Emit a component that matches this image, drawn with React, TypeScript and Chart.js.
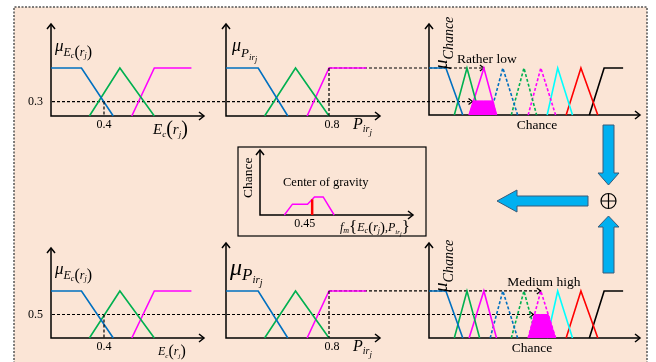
import React, { useEffect, useRef } from "react";
import { Chart, registerables } from "chart.js";

Chart.register(...registerables);

const W = 656;
const H = 362;
const FONT = "'Liberation Serif', 'Times New Roman', serif";

type Pt = [number, number];

// Membership functions of E_c(r_j): [value, membership]
const ecLow: Pt[] = [[0, 1], [0.23, 1], [0.47, 0]];
const ecMid: Pt[] = [[0.29, 0], [0.52, 1], [0.78, 0]];
const ecHigh: Pt[] = [[0.61, 0], [0.78, 1], [1.06, 1]];

// Membership functions of P_irj
const pLow: Pt[] = [[0, 1], [0.25, 1], [0.48, 0]];
const pMid: Pt[] = [[0.3, 0], [0.54, 1], [0.8, 0]];
const pHigh: Pt[] = [[0.63, 0], [0.8, 1], [1.09, 1]];

// Output membership functions of Chance
const chanceVeryLow: Pt[] = [[0, 1], [0.08, 1], [0.16, 0]];
const chanceLow: Pt[] = [[0.12, 0], [0.18, 1], [0.24, 0]];
const chanceRatherLow: Pt[] = [[0.19, 0], [0.26, 1], [0.32, 0]];
const chanceMediumLow: Pt[] = [[0.29, 0], [0.35, 1], [0.42, 0]];
const chanceMedium: Pt[] = [[0.39, 0], [0.45, 1], [0.51, 0]];
const chanceMediumHigh: Pt[] = [[0.47, 0], [0.53, 1], [0.6, 0]];
const chanceRatherHigh: Pt[] = [[0.56, 0], [0.61, 1], [0.68, 0]];
const chanceHigh: Pt[] = [[0.65, 0], [0.72, 1], [0.8, 0]];
const chanceVeryHigh: Pt[] = [[0.76, 0], [0.83, 1], [0.92, 1]];

// Crisp inputs, rule firing strengths and the fired output terms
const inputEc = 0.4;
const inputP = 0.8;
const ruleStrength = [0.3, 0.5];
const ruleOutput = ["Rather low", "Medium high"];

// Aggregated output set and its centre of gravity
const aggregate: Pt[] = [[0.21, 0], [0.28, 0.3], [0.41, 0.3], [0.47, 0.5], [0.545, 0.5], [0.64, 0]];
const centroid = 0.45;

const C_BLUE = "#0070C0";
const C_GREEN = "#00B050";
const C_MAGENTA = "#FF00FF";
const C_CYAN = "#00FFFF";
const C_RED = "#FF0000";
const C_BLACK = "#000000";

const chanceTerms: { pts: Pt[]; color: string; dashed: boolean }[] = [
  { pts: chanceVeryLow, color: C_BLUE, dashed: false },
  { pts: chanceLow, color: C_GREEN, dashed: false },
  { pts: chanceRatherLow, color: C_MAGENTA, dashed: false },
  { pts: chanceMediumLow, color: C_BLUE, dashed: true },
  { pts: chanceMedium, color: C_GREEN, dashed: true },
  { pts: chanceMediumHigh, color: C_MAGENTA, dashed: true },
  { pts: chanceRatherHigh, color: C_CYAN, dashed: false },
  { pts: chanceHigh, color: C_RED, dashed: false },
  { pts: chanceVeryHigh, color: C_BLACK, dashed: false },
];

// Clip a membership function at a firing strength (min implication)
function clipAt(pts: Pt[], level: number): Pt[] {
  const out: Pt[] = [];
  for (let i = 0; i < pts.length; i++) {
    const [x, y] = pts[i];
    if (i > 0) {
      const [x0, y0] = pts[i - 1];
      if ((y0 - level) * (y - level) < 0) {
        const t = (level - y0) / (y - y0);
        out.push([x0 + t * (x - x0), level]);
      }
    }
    out.push([x, Math.min(y, level)]);
  }
  return out;
}

function peakX(pts: Pt[]): number {
  const p = pts.find((q) => q[1] === 1);
  return p ? p[0] : pts[0][0];
}

function valueAt(pts: Pt[], x: number): number {
  for (let i = 1; i < pts.length; i++) {
    const [x0, y0] = pts[i - 1];
    const [x1, y1] = pts[i];
    if (x >= x0 && x <= x1) return y0 + ((x - x0) / (x1 - x0)) * (y1 - y0);
  }
  return 0;
}

function line(pts: Pt[], color: string, dashed = false, width = 1.6) {
  return {
    data: pts.map(([x, y]) => ({ x, y })),
    showLine: true,
    borderColor: color,
    backgroundColor: color,
    borderWidth: width,
    borderDash: dashed ? [3, 2] : [],
    pointRadius: 0,
    fill: false as any,
    clip: false as any,
  };
}

function area(pts: Pt[], color: string) {
  return { ...line(pts, color, false, 1), fill: "origin" as any };
}

type Run = [string, number, boolean?, number?];

function drawRuns(ctx: CanvasRenderingContext2D, x: number, y: number, list: Run[], rotated = false) {
  ctx.save();
  ctx.translate(x, y);
  if (rotated) ctx.rotate(-Math.PI / 2);
  ctx.textBaseline = "alphabetic";
  ctx.textAlign = "left";
  ctx.fillStyle = "#000";
  let cx = 0;
  for (const [t, size, italic, dy] of list) {
    ctx.font = `${italic ? "italic " : ""}${size}px ${FONT}`;
    ctx.fillText(t, cx, dy || 0);
    cx += ctx.measureText(t).width;
  }
  ctx.restore();
}

function text(ctx: CanvasRenderingContext2D, s: string, x: number, y: number, size: number, align: CanvasTextAlign = "center", baseline: CanvasTextBaseline = "alphabetic") {
  ctx.save();
  ctx.font = `${size}px ${FONT}`;
  ctx.fillStyle = "#000";
  ctx.textAlign = align;
  ctx.textBaseline = baseline;
  ctx.fillText(s, x, y);
  ctx.restore();
}

function head(ctx: CanvasRenderingContext2D, x: number, y: number, ang: number, s = 5, w = 4) {
  ctx.save();
  ctx.translate(x, y);
  ctx.rotate(ang);
  ctx.setLineDash([]);
  ctx.beginPath();
  ctx.moveTo(-s, -w);
  ctx.lineTo(0, 0);
  ctx.lineTo(-s, w);
  ctx.stroke();
  ctx.restore();
}

function dashedLine(ctx: CanvasRenderingContext2D, x1: number, y1: number, x2: number, y2: number, arrow = false) {
  ctx.save();
  ctx.strokeStyle = "#000";
  ctx.lineWidth = 1.2;
  ctx.setLineDash([3, 2]);
  ctx.beginPath();
  ctx.moveTo(x1, y1);
  ctx.lineTo(x2, y2);
  ctx.stroke();
  if (arrow) head(ctx, x2, y2, Math.atan2(y2 - y1, x2 - x1), 4, 3);
  ctx.restore();
}

function drawAxes(chart: Chart) {
  const { ctx, chartArea: a } = chart;
  ctx.save();
  ctx.strokeStyle = "#000";
  ctx.lineWidth = 1.5;
  ctx.setLineDash([]);
  ctx.beginPath();
  ctx.moveTo(a.left, a.top);
  ctx.lineTo(a.left, a.bottom);
  ctx.lineTo(a.right, a.bottom);
  ctx.stroke();
  head(ctx, a.right, a.bottom, 0);
  head(ctx, a.left, a.top, -Math.PI / 2);
  ctx.restore();
}

type Box = { l: number; t: number; r: number; b: number };

function panel(canvas: HTMLCanvasElement, box: Box, xMax: number, yMax: number, datasets: any[], deco: (c: Chart) => void) {
  return new Chart(canvas, {
    type: "scatter",
    data: { datasets },
    options: {
      responsive: false,
      animation: false,
      events: [],
      layout: { padding: { left: box.l, top: box.t, right: W - box.r, bottom: H - box.b } },
      plugins: { legend: { display: false }, tooltip: { enabled: false } },
      scales: {
        x: { type: "linear", display: false, min: 0, max: xMax, bounds: "data" },
        y: { type: "linear", display: false, min: 0, max: yMax, bounds: "data" },
      },
    } as any,
    plugins: [
      {
        id: "axesAndLabels",
        beforeDatasetsDraw(c: Chart) {
          drawAxes(c);
        },
        afterDatasetsDraw(c: Chart) {
          deco(c);
        },
      },
    ],
  });
}

const muEc: Run[] = [["μ", 17, true, 0], ["E", 12, true, 5], ["c", 8, true, 7], ["(", 16, false, 6], ["r", 12, true, 5], ["j", 8, true, 7], [")", 16, false, 6]];
const muPSmall: Run[] = [["μ", 18, true, 0], ["P", 13, true, 6], ["ir", 9, true, 9], ["j", 8, true, 11]];
const muPLarge: Run[] = [["μ", 24, true, 0], ["P", 17, true, 5], ["ir", 11, true, 8], ["j", 10, true, 11]];
const muChance: Run[] = [["μ", 19, true, 0], ["Chance", 14, true, 6]];
const ecTitleLarge: Run[] = [["E", 15, true, 0], ["c", 9, true, 3], ["(", 20, false, 1], ["r", 15, true, 0], ["j", 9, true, 3], [")", 20, false, 1]];
const ecTitleSmall: Run[] = [["E", 12, true, 0], ["c", 7, true, 3], ["(", 16, false, 1], ["r", 12, true, 0], ["j", 7, true, 3], [")", 16, false, 1]];
const pTitle: Run[] = [["P", 16, true, 0], ["ir", 10, true, 3], ["j", 9, true, 6]];
const fmTitle: Run[] = [
  ["f", 12, true, 0], ["m", 8, true, 2], ["{", 17, false, 1], ["E", 12, true, 0], ["c", 8, true, 2], ["(", 15, false, 1],
  ["r", 12, true, 0], ["j", 8, true, 2], [")", 15, false, 1], [",", 12, false, 0], ["P", 12, true, 0], ["ir", 7, true, 3],
  ["j", 6, true, 5], ["}", 17, false, 1],
];

export default function App() {
  const frameRef = useRef<HTMLCanvasElement | null>(null);
  const panelRefs = useRef<(HTMLCanvasElement | null)[]>([]);

  useEffect(() => {
    const cv = panelRefs.current as HTMLCanvasElement[];
    const charts: Chart[] = [];

    const ecDatasets = [line(ecLow, C_BLUE), line(ecMid, C_GREEN), line(ecHigh, C_MAGENTA)];
    const pDatasets = () => [line(pLow, C_BLUE), line(pMid, C_GREEN), line(pHigh, C_MAGENTA)];
    const chanceDatasets = (term: Pt[], level: number) => [
      area(clipAt(term, level), C_MAGENTA),
      ...chanceTerms.map((t) => line(t.pts, t.color, t.dashed)),
    ];

    const ecDeco = (level: number, small: boolean) => (c: Chart) => {
      const { ctx, chartArea: a } = c;
      const xs = c.scales.x;
      const ys = c.scales.y;
      const xi = xs.getPixelForValue(inputEc);
      dashedLine(ctx, xi, ys.getPixelForValue(level), xi, a.bottom);
      text(ctx, String(level), a.left - 8, ys.getPixelForValue(level), 12, "right", "middle");
      text(ctx, String(inputEc), xi, a.bottom + 12, 12);
      drawRuns(ctx, a.left + 4, ys.getPixelForValue(1) - 17, muEc);
      if (small) drawRuns(ctx, a.left + 107, a.bottom + 17, ecTitleSmall);
      else drawRuns(ctx, a.left + 102, a.bottom + 18, ecTitleLarge);
    };

    const pDeco = (large: boolean) => (c: Chart) => {
      const { ctx, chartArea: a } = c;
      const xs = c.scales.x;
      const ys = c.scales.y;
      const xi = xs.getPixelForValue(inputP);
      dashedLine(ctx, xi, ys.getPixelForValue(1), xi, a.bottom);
      text(ctx, String(inputP), xi + 3, a.bottom + 12, 12);
      if (large) drawRuns(ctx, a.left + 4, ys.getPixelForValue(1) - 16, muPLarge);
      else drawRuns(ctx, a.left + 6, ys.getPixelForValue(1) - 17, muPSmall);
      drawRuns(ctx, a.left + 127, a.bottom + 13, pTitle);
    };

    const chanceDeco = (term: Pt[], label: string, titleX: number) => (c: Chart) => {
      const { ctx, chartArea: a } = c;
      const xs = c.scales.x;
      const ys = c.scales.y;
      const y1 = ys.getPixelForValue(1);
      drawRuns(ctx, a.left + 18, y1 + 1, muChance, true);
      text(ctx, label, xs.getPixelForValue(peakX(term)) + 3, y1 - 5, 13.5);
      text(ctx, "Chance", a.left + titleX, a.bottom + 14, 13.5);
    };

    // top row
    const A = panel(cv[0], { l: 51, t: 24, r: 204, b: 116 }, 1.155, 1.917, ecDatasets, ecDeco(ruleStrength[0], false));
    const B = panel(cv[1], { l: 226, t: 24, r: 380, b: 116 }, 1.196, 1.917, pDatasets(), pDeco(false));
    const Cc = panel(cv[2], { l: 429, t: 24, r: 640, b: 115 }, 1, 1.936, chanceDatasets(chanceRatherLow, ruleStrength[0]), chanceDeco(chanceRatherLow, ruleOutput[0], 108));
    // bottom row
    const D = panel(cv[3], { l: 51, t: 248, r: 204, b: 338 }, 1.155, 1.915, [line(ecLow, C_BLUE), line(ecMid, C_GREEN), line(ecHigh, C_MAGENTA)], ecDeco(ruleStrength[1], true));
    const E = panel(cv[4], { l: 226, t: 243, r: 380, b: 338 }, 1.196, 2.02, pDatasets(), pDeco(true));
    const F = panel(cv[5], { l: 429, t: 243, r: 640, b: 338 }, 1, 2.02, chanceDatasets(chanceMediumHigh, ruleStrength[1]), chanceDeco(chanceMediumHigh, ruleOutput[1], 103));
    // defuzzification
    const G = panel(
      cv[6],
      { l: 260, t: 150, r: 413, b: 215 },
      1.32,
      1.8,
      [line([[centroid, 0], [centroid, valueAt(aggregate, centroid)]], C_RED, false, 2.5), line(aggregate, C_MAGENTA, false, 1.5)],
      (c: Chart) => {
        const { ctx, chartArea: a } = c;
        const xc = c.scales.x.getPixelForValue(centroid);
        drawRuns(ctx, a.left - 8, a.bottom - 17, [["Chance", 13.5, false, 0]], true);
        text(ctx, "Center of gravity", a.left + 23, a.bottom - 29, 12.5, "left");
        text(ctx, String(centroid), xc + 3, a.bottom + 12, 12, "right");
        drawRuns(ctx, a.left + 80, a.bottom + 16, fmTitle);
      }
    );
    charts.push(A, B, Cc, D, E, F, G);

    const frame = new Chart(frameRef.current as HTMLCanvasElement, {
      type: "scatter",
      data: { datasets: [] },
      options: {
        responsive: false,
        animation: false,
        events: [],
        plugins: { legend: { display: false }, tooltip: { enabled: false } },
        scales: { x: { display: false }, y: { display: false } },
      } as any,
      plugins: [
        {
          id: "frame",
          beforeDraw(c: Chart) {
            const ctx = c.ctx;
            ctx.save();
            ctx.fillStyle = "#ffffff";
            ctx.fillRect(0, 0, W, H);
            ctx.fillStyle = "#FBE5D6";
            ctx.fillRect(14, 7, 633, H);
            ctx.strokeStyle = "#555";
            ctx.lineWidth = 1.5;
            ctx.setLineDash([2, 1.5]);
            ctx.beginPath();
            ctx.moveTo(14, H + 5);
            ctx.lineTo(14, 7);
            ctx.lineTo(647, 7);
            ctx.lineTo(647, H + 5);
            ctx.stroke();
            ctx.restore();
          },
          afterDraw(c: Chart) {
            const ctx = c.ctx;
            // rule links: firing strength and consequent peak
            const rows: [Chart, Chart, Chart, Pt[], number][] = [
              [A, B, Cc, chanceRatherLow, ruleStrength[0]],
              [D, E, F, chanceMediumHigh, ruleStrength[1]],
            ];
            for (const [ec, p, ch, term, level] of rows) {
              const yl = ec.scales.y.getPixelForValue(level);
              const clipped = clipAt(term, level);
              const edge = clipped.find((q) => q[1] === level) as Pt;
              dashedLine(ctx, ec.chartArea.left + 1, yl, ch.scales.x.getPixelForValue(edge[0]) - 1, yl, true);
              const yt = p.scales.y.getPixelForValue(1);
              dashedLine(ctx, p.scales.x.getPixelForValue(inputP), yt, ch.scales.x.getPixelForValue(peakX(term)), yt, true);
            }

            // defuzzification box
            ctx.save();
            ctx.strokeStyle = "#000";
            ctx.lineWidth = 1.2;
            ctx.setLineDash([]);
            ctx.strokeRect(238, 147, 188, 89);
            ctx.restore();

            // block arrows and aggregation symbol
            const poly = (pts: number[][]) => {
              ctx.beginPath();
              pts.forEach(([x, y], i) => (i ? ctx.lineTo(x, y) : ctx.moveTo(x, y)));
              ctx.closePath();
              ctx.fill();
              ctx.stroke();
            };
            ctx.save();
            ctx.fillStyle = "#00B0F0";
            ctx.strokeStyle = "#3A5A78";
            ctx.lineWidth = 1;
            ctx.setLineDash([]);
            poly([[603, 125], [614, 125], [614, 173], [619, 173], [608.5, 185], [598, 173], [603, 173]]);
            poly([[608.5, 216], [619, 227], [614, 227], [614, 273], [603, 273], [603, 227], [598, 227]]);
            poly([[497, 201], [517, 190], [517, 196], [588, 196], [588, 206], [517, 206], [517, 212]]);
            ctx.strokeStyle = "#000";
            ctx.lineWidth = 1.2;
            ctx.beginPath();
            ctx.arc(608.5, 201, 7.5, 0, Math.PI * 2);
            ctx.moveTo(601, 201);
            ctx.lineTo(616, 201);
            ctx.moveTo(608.5, 193.5);
            ctx.lineTo(608.5, 208.5);
            ctx.stroke();
            ctx.restore();
          },
        },
      ],
    });
    charts.push(frame);

    return () => charts.forEach((ch) => ch.destroy());
  }, []);

  const abs: React.CSSProperties = { position: "absolute", left: 0, top: 0, width: W, height: H };
  return (
    <div style={{ position: "fixed", left: 0, top: 0, width: W, height: H, background: "#fff" }}>
      <canvas ref={frameRef} width={W} height={H} style={abs} />
      {[0, 1, 2, 3, 4, 5, 6].map((i) => (
        <canvas
          key={i}
          ref={(el) => {
            panelRefs.current[i] = el;
          }}
          width={W}
          height={H}
          style={abs}
        />
      ))}
    </div>
  );
}
